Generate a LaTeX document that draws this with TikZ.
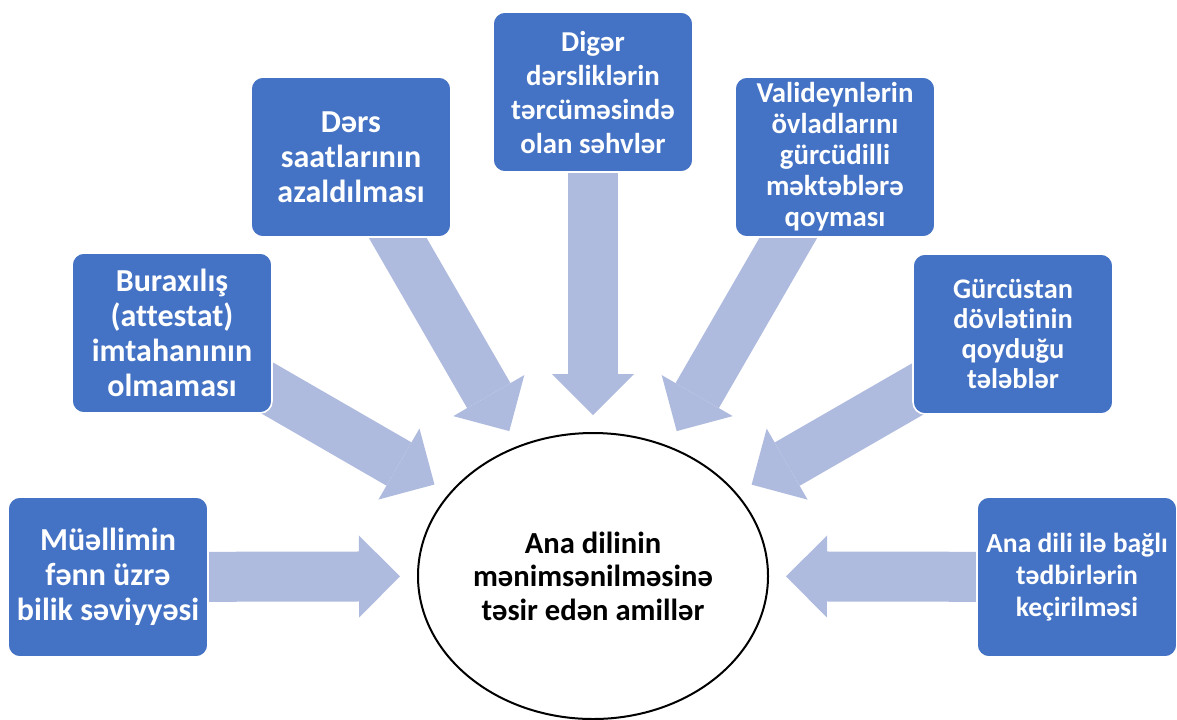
\documentclass[tikz,border=0pt]{standalone}
\usepackage{fontspec}
\setmainfont{Carlito}[Ligatures=NoCommon]
\usetikzlibrary{arrows.meta,backgrounds,shapes.geometric}
\definecolor{boxblue}{RGB}{68,114,196}
\definecolor{arrowblue}{RGB}{175,187,222}

\begin{document}
\begin{tikzpicture}[
    x=0.5pt, y=-0.5pt,
    box/.style={
        rectangle,
        rounded corners=6pt,
        draw=white,
        line width=0.8pt,
        fill=boxblue,
        text=white,
        minimum width=100pt,
        minimum height=80pt,
        inner sep=2pt,
        align=center,
        font=\fontsize{16}{17.5}\selectfont\bfseries
    },
    flow/.style={
        draw=arrowblue,
        line width=25pt,
        -{Triangle[width=41pt,length=20.5pt,line width=0pt]},
        shorten >=8.5pt
    }
]
\useasboundingbox (0,0) rectangle (1177,719);

% Ellisse centrale
\node[ellipse, draw=black, line width=1pt, inner sep=0pt,
      minimum width=175pt, minimum height=143pt, align=center,
      font=\fontsize{15.3}{16.8}\selectfont\bfseries] (centre) at (593,576)
      {Ana dilinin\\mənimsənilməsinə\\təsir edən amillər};

% Riquadri dei fattori
\node[box] (teacher) at (108,577) {Müəllimin\\fənn üzrə\\bilik səviyyəsi};
\node[box] (exam) at (172,333) {Buraxılış\\(attestat)\\imtahanının\\olmaması};
\node[box] (hours) at (351,157) {Dərs\\saatlarının\\azaldılması};
\node[box, font=\fontsize{14.4}{17}\selectfont\bfseries] (books) at (593,92) {Digər\\dərsliklərin\\tərcüməsində\\olan səhvlər};
\node[box, font=\fontsize{14.4}{15.5}\selectfont\bfseries] (parents) at (835,157) {Valideynlərin\\övladlarını\\gürcüdilli\\məktəblərə\\qoyması};
\node[box, font=\fontsize{14.2}{15}\selectfont\bfseries] (state) at (1013,334) {Gürcüstan\\dövlətinin\\qoyduğu\\tələblər};
\node[box, font=\fontsize{13.8}{16}\selectfont\bfseries] (events) at (1077,577) {Ana dili ilə bağlı\\tədbirlərin\\keçirilməsi};

% Frecce verso il centro
\begin{scope}[on background layer]
\foreach \src in {teacher,exam,hours,books,parents,state,events}
    \draw[flow] (\src.center) -- (centre);
\end{scope}

\end{tikzpicture}
\end{document}
